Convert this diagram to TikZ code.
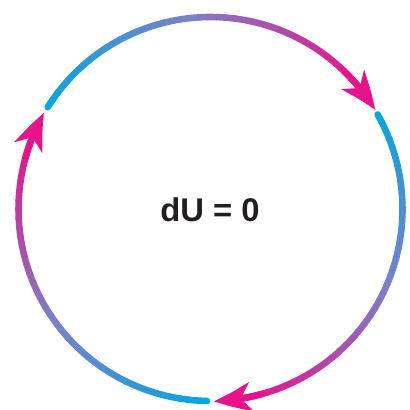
\documentclass[tikz,border=0pt]{standalone}
\usepackage{fontspec}
\setsansfont{Liberation Sans}
\usetikzlibrary{calc,arrows.meta,bending}
\definecolor{cyanA}{RGB}{0,168,226}
\definecolor{midA}{RGB}{124,128,200}
\definecolor{magA}{RGB}{232,18,138}
\definecolor{txtgray}{RGB}{35,31,32}

\tikzstyle{seg} = [line width=5.6pt, line cap=round]
\tikzstyle{tip} = [line width=5.6pt, draw=magA, -{Stealth[length=32pt, width=25pt, inset=9pt, bend]}]
\tikzstyle{label} = [font=\sffamily\bfseries\fontsize{28}{30}\selectfont, text=txtgray]

\begin{document}
\begin{tikzpicture}[x=0.03cm, y=0.03cm]
\useasboundingbox (0,0) rectangle (409,410);
\coordinate (o) at (210.5,201);
\foreach \s/\e in {148/31, 29.5/-89, -91/-210}{
    \pgfmathsetmacro\m{\e+8}
    \foreach \i in {1,...,40}{
        \pgfmathsetmacro\a{\s+(\m-\s)*(\i-1)/40}
        \pgfmathsetmacro\b{\s+(\m-\s)*\i/40}
        \ifnum\i<21
            \pgfmathtruncatemacro\p{100*\i/20}
            \colorlet{segcol}{midA!\p!cyanA}
        \else
            \pgfmathtruncatemacro\p{100*(\i-20)/20}
            \colorlet{segcol}{magA!\p!midA}
        \fi
        \draw[seg, draw=segcol] ($(o)+(\a:192)$) arc[start angle=\a, end angle=\b, radius=192];
    }
    \pgfmathsetmacro\f{\e+15}
    \draw[tip] ($(o)+(\f:192)$) arc[start angle=\f, end angle=\e, radius=192];
}
\node[label] (du) at (210,200) {dU = 0};
\end{tikzpicture}
\end{document}
